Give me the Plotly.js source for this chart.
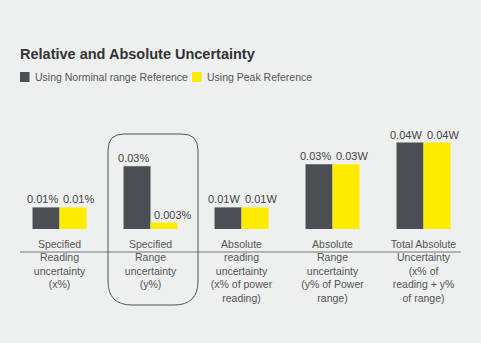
<!DOCTYPE html>
<html>
<head>
<meta charset="utf-8">
<script src="https://cdn.plot.ly/plotly-3.0.1.min.js"></script>
<style>html,body{margin:0;padding:0;background:#eeefef;}#chart{width:481px;height:343px;}</style>
</head>
<body>
<div id="chart"></div>
<script>
var categories = [
  "Specified<br>Reading<br>uncertainty<br>(x%)",
  "Specified<br>Range<br>uncertainty<br>(y%)",
  "Absolute<br>reading<br>uncertainty<br>(x% of power<br>reading)",
  "Absolute<br>Range<br>uncertainty<br>(y% of Power<br>range)",
  "Total Absolute<br>Uncertainty<br>(x% of<br>reading + y%<br>of range)"
];
var seriesNames = ["Using Norminal range Reference", "Using Peak Reference"];
var nominalValues = [0.010, 0.029, 0.010, 0.030, 0.040];
var peakValues = [0.010, 0.003, 0.010, 0.030, 0.040];
var nominalLabels = ["0.01%", "0.03%", "0.01W", "0.03%", "0.04W"];
var peakLabels = ["0.01%", "0.003%", "0.01W", "0.03W", "0.04W"];

var W = 481, H = 343;
var mL = 14, mR = 12, mT = 121, mB = 114;
var pw = W - mL - mR, ph = H - mT - mB;
function px(x){ return (x - mL) / pw; }
function py(y){ return (H - mB - y) / ph; }

var xs = categories.map(function(c, i){ return i; });
var darkColor = "#4b4f53", yellowColor = "#ffeb00";
var valFont = {color: "#444", size: 11, family: "Liberation Sans, Arial, sans-serif"};

var traces = [
  {type: "bar", x: xs, y: nominalValues, name: seriesNames[0], marker: {color: darkColor}, hoverinfo: "none"},
  {type: "bar", x: xs, y: peakValues, name: seriesNames[1], marker: {color: yellowColor}, hoverinfo: "none"}
];

function roundRectPath(x0, y0, x1, y1, rt, rb){
  var X0 = px(x0), X1 = px(x1);
  function Y(v){ return py(v); }
  var d = "M" + px(x0 + rt) + "," + Y(y0) +
    " L" + px(x1 - rt) + "," + Y(y0) +
    " Q" + X1 + "," + Y(y0) + " " + X1 + "," + Y(y0 + rt) +
    " L" + X1 + "," + Y(y1 - rb) +
    " Q" + X1 + "," + Y(y1) + " " + px(x1 - rb) + "," + Y(y1) +
    " L" + px(x0 + rb) + "," + Y(y1) +
    " Q" + X0 + "," + Y(y1) + " " + X0 + "," + Y(y1 - rb) +
    " L" + X0 + "," + Y(y0 + rt) +
    " Q" + X0 + "," + Y(y0) + " " + px(x0 + rt) + "," + Y(y0) + " Z";
  return d;
}

var shapes = [
  {type: "line", xref: "paper", yref: "paper", x0: px(20), x1: px(461), y0: py(252), y1: py(252),
   line: {color: "#777", width: 1}},
  {type: "path", xref: "paper", yref: "paper", path: roundRectPath(108, 134, 198, 305, 16, 24),
   line: {color: "#555", width: 1}},
  {type: "rect", xref: "paper", yref: "paper", x0: px(20), x1: px(29.5), y0: py(72), y1: py(82),
   fillcolor: darkColor, line: {width: 0}},
  {type: "rect", xref: "paper", yref: "paper", x0: px(192), x1: px(201.5), y0: py(72), y1: py(82),
   fillcolor: yellowColor, line: {width: 0}}
];

var legendFont = {family: "Liberation Sans, Arial, sans-serif", size: 10.5, color: "#555"};
var annotations = [
  {xref: "paper", yref: "paper", x: px(33), y: py(77), xanchor: "left", yanchor: "middle",
   text: seriesNames[0], showarrow: false, font: legendFont},
  {xref: "paper", yref: "paper", x: px(205), y: py(77), xanchor: "left", yanchor: "middle",
   text: seriesNames[1], showarrow: false, font: legendFont}
];
xs.forEach(function(x, i){
  annotations.push({xref: "x", yref: "y", x: x, y: nominalValues[i], xanchor: "right", yanchor: "bottom",
    xshift: 0, yshift: 0, text: nominalLabels[i], showarrow: false, font: valFont, borderpad: 1});
  annotations.push({xref: "x", yref: "y", x: x, y: peakValues[i], xanchor: "left", yanchor: "bottom",
    xshift: 1, yshift: 0, text: peakLabels[i], showarrow: false, font: valFont, borderpad: 1});
});

var layout = {
  width: W, height: H,
  margin: {l: mL, r: mR, t: mT, b: mB, pad: 0},
  paper_bgcolor: "#eeefef", plot_bgcolor: "#eeefef",
  showlegend: false,
  barmode: "group", bargap: 0.407, bargroupgap: 0,
  title: {text: "Relative and Absolute Uncertainty", xref: "container", yref: "container",
    x: 20 / W, xanchor: "left", y: 1 - 54 / H, yanchor: "middle",
    font: {family: "Liberation Sans, Arial, sans-serif", size: 14.5, color: "#333", weight: "bold"}},
  xaxis: {range: [-0.5, 4.5], tickvals: xs, ticktext: categories, showgrid: false, zeroline: false,
    showline: false, ticks: "", ticklabelstandoff: 7, fixedrange: true,
    tickfont: {family: "Liberation Sans, Arial, sans-serif", size: 10.5, color: "#555"}},
  yaxis: {range: [0, 0.05], visible: false, showgrid: false, zeroline: false, fixedrange: true},
  shapes: shapes,
  annotations: annotations
};

Plotly.newPlot("chart", traces, layout, {displayModeBar: false, staticPlot: true});
</script>
</body>
</html>
